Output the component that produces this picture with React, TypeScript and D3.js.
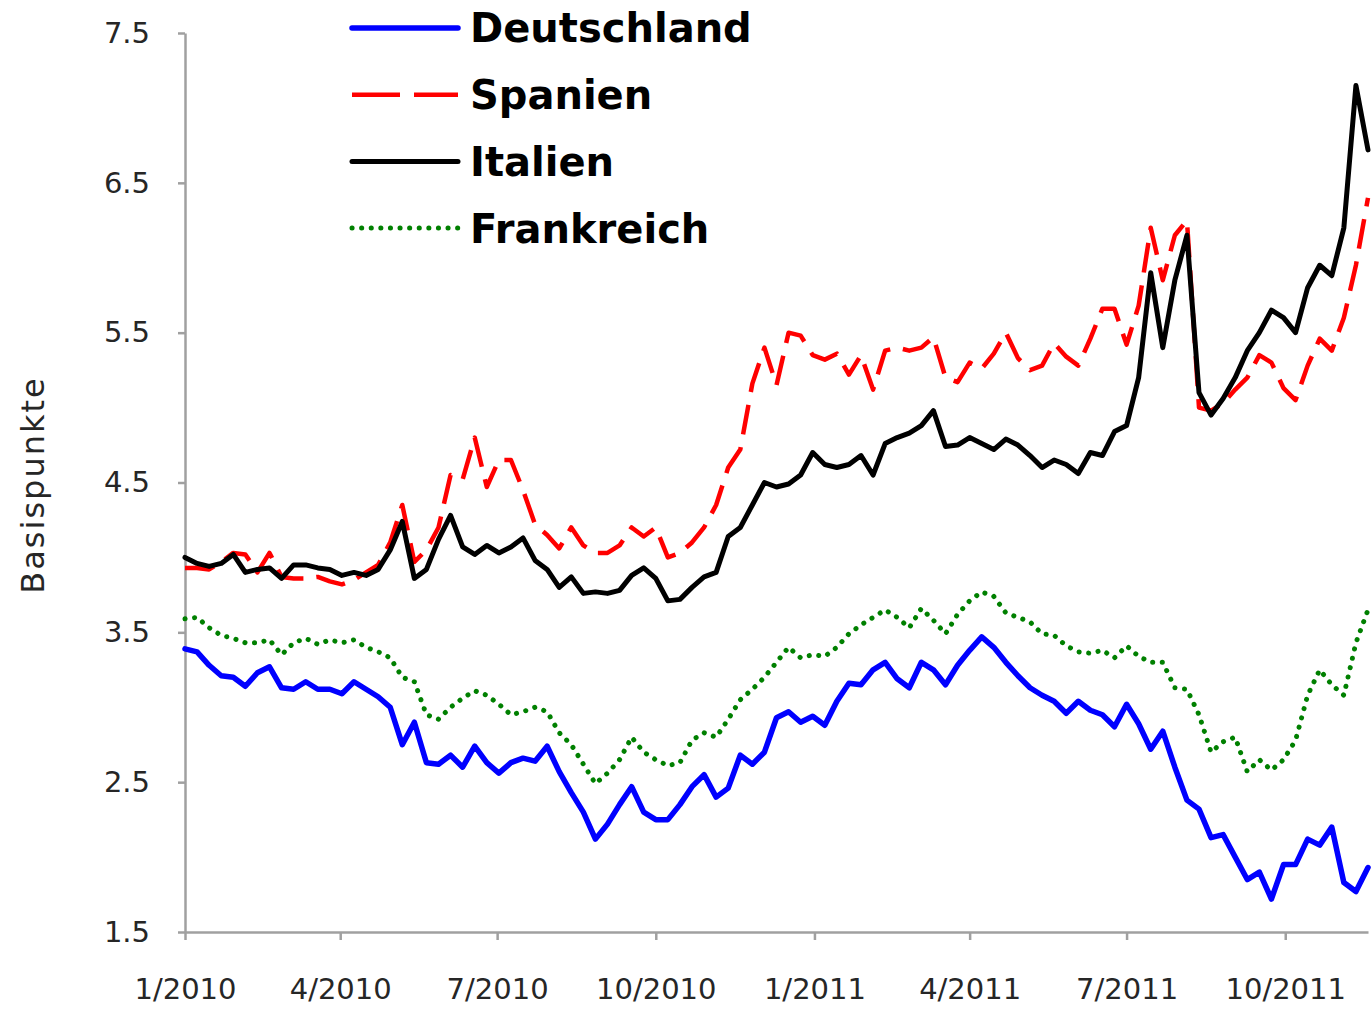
import React, { useEffect, useRef } from "react";
import * as d3 from "d3";

// weekly observations starting 1 Jan 2010
const startDate = new Date(2010, 0, 1);
const endDate = new Date(2011, 10, 18);

const deutschland = [
  3.39, 3.37, 3.28, 3.21, 3.2, 3.14, 3.23, 3.27, 3.13, 3.12, 3.17, 3.12, 3.12, 3.09, 3.17, 3.12, 3.07, 3.0, 2.75, 2.9,
  2.63, 2.62, 2.68, 2.6, 2.74, 2.63, 2.56, 2.63, 2.66, 2.64, 2.74, 2.57, 2.43, 2.3, 2.12, 2.22, 2.35, 2.47, 2.3, 2.25,
  2.25, 2.35, 2.47, 2.55, 2.4, 2.46, 2.68, 2.62, 2.7, 2.93, 2.97, 2.9, 2.94, 2.88, 3.04, 3.16, 3.15, 3.25, 3.3, 3.19,
  3.13, 3.3, 3.25, 3.15, 3.28, 3.38, 3.47, 3.4, 3.3, 3.21, 3.13, 3.08, 3.04, 2.96, 3.04, 2.98, 2.95, 2.87, 3.02, 2.89,
  2.72, 2.84, 2.6, 2.38, 2.32, 2.13, 2.15, 2.0, 1.85, 1.9, 1.72, 1.95, 1.95, 2.12, 2.08, 2.2, 1.83, 1.77, 1.93,
];

const spanien = [
  3.93, 3.93, 3.92, 3.97, 4.03, 4.02, 3.9, 4.03, 3.87, 3.86, 3.86, 3.87, 3.84, 3.82, 3.85, 3.9, 3.95, 4.1, 4.35, 3.97,
  4.05, 4.2, 4.55, 4.52, 4.8, 4.47, 4.65, 4.65, 4.45, 4.22, 4.15, 4.06, 4.2, 4.08, 4.03, 4.03, 4.08, 4.2, 4.14, 4.2,
  4.0, 4.03, 4.1, 4.2, 4.35, 4.6, 4.72, 5.16, 5.4, 5.15, 5.5, 5.48, 5.35, 5.32, 5.36, 5.22, 5.35, 5.12, 5.38, 5.4,
  5.38, 5.4, 5.47, 5.2, 5.17, 5.3, 5.26, 5.36, 5.5, 5.33, 5.25, 5.28, 5.43, 5.34, 5.28, 5.46, 5.66, 5.66, 5.42, 5.68,
  6.2, 5.85, 6.15, 6.25, 5.0, 4.98, 5.03, 5.12, 5.2, 5.35, 5.3, 5.13, 5.05, 5.28, 5.46, 5.38, 5.6, 5.95, 6.4,
];

const italien = [
  4.0, 3.96, 3.94, 3.96, 4.02, 3.9, 3.92, 3.93, 3.86, 3.95, 3.95, 3.93, 3.92, 3.88, 3.9, 3.88, 3.92, 4.05, 4.24, 3.86,
  3.92, 4.12, 4.28, 4.07, 4.02, 4.08, 4.03, 4.07, 4.13, 3.98, 3.92, 3.8, 3.87, 3.76, 3.77, 3.76, 3.78, 3.88, 3.93, 3.86,
  3.71, 3.72, 3.8, 3.87, 3.9, 4.14, 4.2, 4.35, 4.5, 4.47, 4.49, 4.55, 4.7, 4.62, 4.6, 4.62, 4.68, 4.55, 4.76, 4.8,
  4.83, 4.88, 4.98, 4.74, 4.75, 4.8, 4.76, 4.72, 4.79, 4.75, 4.68, 4.6, 4.65, 4.62, 4.56, 4.7, 4.68, 4.84, 4.88, 5.2,
  5.9, 5.4, 5.85, 6.15, 5.1, 4.95, 5.06, 5.2, 5.38, 5.5, 5.65, 5.6, 5.5, 5.8, 5.95, 5.88, 6.2, 7.15, 6.72,
];

const frankreich = [
  3.59, 3.6, 3.53, 3.48, 3.46, 3.43, 3.43, 3.45, 3.35, 3.43, 3.46, 3.42, 3.45, 3.43, 3.45, 3.4, 3.37, 3.33, 3.2, 3.17,
  2.95, 2.92, 3.0, 3.06, 3.11, 3.08, 3.02, 2.95, 2.97, 3.0, 2.97, 2.83, 2.75, 2.62, 2.49, 2.56, 2.65, 2.8, 2.7, 2.65,
  2.61, 2.63, 2.78, 2.83, 2.8, 2.92, 3.05, 3.12, 3.2, 3.3, 3.4, 3.33, 3.35, 3.34, 3.4, 3.49, 3.55, 3.6, 3.65, 3.6,
  3.53, 3.66, 3.58, 3.49, 3.62, 3.71, 3.77, 3.74, 3.63, 3.6, 3.57, 3.49, 3.48, 3.41, 3.37, 3.36, 3.38, 3.33, 3.41, 3.34,
  3.3, 3.3, 3.13, 3.12, 2.95, 2.7, 2.77, 2.8, 2.57, 2.65, 2.58, 2.65, 2.78, 3.08, 3.25, 3.15, 3.08, 3.43, 3.65,
];

const yTicks = [1.5, 2.5, 3.5, 4.5, 5.5, 6.5, 7.5];
const xTickDates = [
  new Date(2010, 0, 1), new Date(2010, 3, 1), new Date(2010, 6, 1), new Date(2010, 9, 1),
  new Date(2011, 0, 1), new Date(2011, 3, 1), new Date(2011, 6, 1), new Date(2011, 9, 1),
];
const xTickLabels = ["1/2010", "4/2010", "7/2010", "10/2010", "1/2011", "4/2011", "7/2011", "10/2011"];

const seriesNames = ["Deutschland", "Spanien", "Italien", "Frankreich"];

const W = 1371;
const H = 1009;
const FONT = "'DejaVu Sans', sans-serif";

const App = () => {
  const ref = useRef(null);

  useEffect(() => {
    const svg = d3.select(ref.current);
    svg.selectAll("*").remove();

    const x = d3.scaleTime().domain([startDate, endDate]).range([185, 1368]);
    const y = d3.scaleLinear().domain([1.5, 7.5]).range([932, 33]);

    const dates = deutschland.map((_, i) => d3.timeDay.offset(startDate, 7 * i));

    const styles = [
      { values: deutschland, color: "#0000ff", width: 5.5, dash: null, legendDash: null, cap: "round" },
      { values: spanien, color: "#ff0000", width: 4.5, dash: "30 13", legendDash: "48 14", cap: "butt" },
      { values: italien, color: "#000000", width: 5, dash: null, legendDash: null, cap: "round" },
      { values: frankreich, color: "#008000", width: 5, dash: "0.1 9.5", legendDash: "0.1 9.5", cap: "round" },
    ];

    const yAxis = (g) =>
      g
        .attr("transform", "translate(185,0)")
        .call(
          d3
            .axisLeft(y)
            .tickValues(yTicks)
            .tickFormat(d3.format(".1f"))
            .tickSize(7)
            .tickSizeOuter(0)
            .tickPadding(28)
        )
        .call((g) => g.select(".domain").attr("stroke", "#a0a0a0").attr("stroke-width", 2.5))
        .call((g) => g.selectAll(".tick line").attr("stroke", "#a0a0a0").attr("stroke-width", 2.5))
        .call((g) =>
          g.selectAll(".tick text").attr("fill", "#262626").attr("font-size", 29).attr("font-family", FONT)
        );

    const xAxis = (g) =>
      g
        .attr("transform", "translate(0,932)")
        .call(
          d3
            .axisBottom(x)
            .tickValues(xTickDates)
            .tickFormat((d, i) => xTickLabels[i])
            .tickSize(8)
            .tickSizeOuter(0)
            .tickPadding(38)
        )
        .call((g) => g.select(".domain").attr("stroke", "#a0a0a0").attr("stroke-width", 2.5))
        .call((g) => g.selectAll(".tick line").attr("stroke", "#a0a0a0").attr("stroke-width", 2.5))
        .call((g) =>
          g.selectAll(".tick text").attr("fill", "#262626").attr("font-size", 29).attr("font-family", FONT)
        );

    svg.append("g").call(xAxis);
    svg.append("g").call(yAxis);

    svg
      .append("text")
      .attr("transform", "translate(44,485) rotate(-90)")
      .attr("text-anchor", "middle")
      .attr("font-family", FONT)
      .attr("font-size", 32)
      .attr("letter-spacing", 2)
      .attr("fill", "#262626")
      .text("Basispunkte");

    const line = d3
      .line()
      .x((d, i) => x(dates[i]))
      .y((d) => y(d));

    styles.forEach((s) => {
      svg
        .append("path")
        .datum(s.values)
        .attr("fill", "none")
        .attr("stroke", s.color)
        .attr("stroke-width", s.width)
        .attr("stroke-linejoin", "round")
        .attr("stroke-linecap", s.cap)
        .attr("stroke-dasharray", s.dash)
        .attr("d", line);
    });

    // legend
    const legend = svg.append("g");
    seriesNames.forEach((name, i) => {
      const s = styles[i];
      const ly = 28 + i * 66.7;
      legend
        .append("line")
        .attr("x1", 352)
        .attr("x2", 458)
        .attr("y1", ly)
        .attr("y2", ly)
        .attr("stroke", s.color)
        .attr("stroke-width", s.width)
        .attr("stroke-linecap", s.cap)
        .attr("stroke-dasharray", s.legendDash);
      legend
        .append("text")
        .attr("x", 470)
        .attr("y", ly)
        .attr("dy", "0.36em")
        .attr("font-family", FONT)
        .attr("font-weight", "bold")
        .attr("font-size", 40)
        .attr("fill", "#000")
        .text(name);
    });
  }, []);

  return (
    <svg
      ref={ref}
      width={W}
      height={H}
      style={{ position: "absolute", left: 0, top: 0, background: "#fff" }}
    />
  );
};

export default App;
